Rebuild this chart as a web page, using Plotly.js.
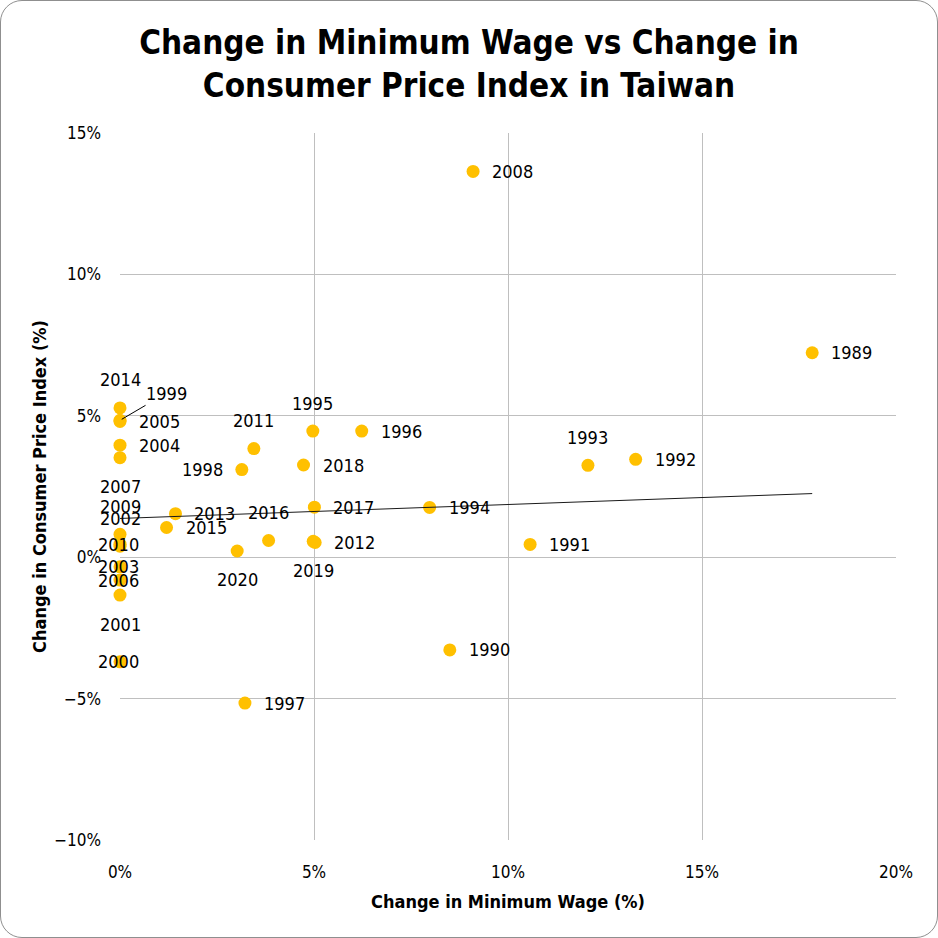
<!DOCTYPE html>
<html>
<head>
<meta charset="utf-8">
<script src="https://cdn.plot.ly/plotly-3.0.1.min.js"></script>
<style>
  html, body { margin: 0; padding: 0; background: #fff; }
  #wrap { position: relative; width: 938px; height: 938px; }
  #chart { position: absolute; left: 0; top: 0; width: 938px; height: 938px; }
  #frame { position: absolute; left: 0; top: 0; width: 938px; height: 938px; box-sizing: border-box;
           border: 1.5px solid #8f8f8f; border-radius: 22px; pointer-events: none; }
</style>
</head>
<body>
<div id="wrap"><div id="chart"></div><div id="frame"></div></div>
<script>
// ---- data (percent) ----
const years = [1989, 1990, 1991, 1992, 1993, 1994, 1995, 1996, 1997, 1998,
               1999, 2000, 2001, 2002, 2003, 2004, 2005, 2006, 2007, 2008,
               2009, 2010, 2011, 2012, 2013, 2014, 2015, 2016, 2017, 2018,
               2019, 2020];
const wageChange = [17.84, 8.50, 10.57, 13.29, 12.06, 7.98, 4.97, 6.23, 3.22, 3.14,
                    0, 0, 0, 0, 0, 0, 0, 0, 0, 9.10,
                    0, 0, 3.45, 5.03, 1.43, 0, 1.20, 3.83, 5.01, 4.73,
                    4.98, 3.02];
const cpiChange = [7.23, -3.28, 0.45, 3.46, 3.25, 1.76, 4.46, 4.46, -5.16, 3.10,
                   4.84, -3.70, -1.34, 0.39, -0.34, 3.96, 4.80, -0.81, 3.52, 13.64,
                   0.81, 0.46, 3.84, 0.52, 1.54, 5.28, 1.05, 0.59, 1.77, 3.26,
                   0.56, 0.22];
// trendline as drawn in the reference
const trendX = [0, 17.84];
const trendY = [1.37, 2.25];
const xTicks = [0, 5, 10, 15, 20];
const yTicks = [-10, -5, 0, 5, 10, 15];
const pct = v => (v < 0 ? '\u2212' + Math.abs(v) : String(v)) + '%';

// ---- label placement (style) ----
const placement = {
  1995: 'above', 2011: 'above', 2016: 'above', 1993: 'above', 2014: 'above',
  2009: 'above', 2002: 'above',
  2020: 'below', 2019: 'below', 2007: 'below', 2001: 'below',
  1998: 'left',
  2010: 'center', 2003: 'center', 2006: 'center', 2000: 'center',
  1999: 'leader'
};

const FONT = '"DejaVu Sans Condensed", "DejaVu Sans", sans-serif';
const labelFont = { family: FONT, size: 18, color: '#000' };

const annotations = years.map((yr, i) => {
  const pos = placement[yr] || 'right';
  const a = { x: wageChange[i], y: cpiChange[i], xref: 'x', yref: 'y', text: String(yr),
              showarrow: false, font: labelFont };
  if (pos === 'right') { a.xanchor = 'left'; a.xshift = 17; }
  else if (pos === 'left') { a.xanchor = 'right'; a.xshift = -17; }
  else if (pos === 'above') { a.yshift = 28; }
  else if (pos === 'below') { a.yshift = -29; }
  else if (pos === 'center') { a.xshift = -2; }
  else if (pos === 'leader') {
    a.showarrow = true; a.arrowhead = 0; a.arrowwidth = 1; a.arrowcolor = '#000';
    a.ax = 46; a.ay = -27; a.standoff = 2;
  }
  return a;
});

const traces = [
  { type: 'scatter', mode: 'markers', x: wageChange, y: cpiChange, text: years.map(String),
    marker: { color: '#FFC000', size: 13, line: { width: 0 } }, hoverinfo: 'x+y+text', cliponaxis: false },
  { type: 'scatter', mode: 'lines', x: trendX, y: trendY,
    line: { color: '#1a1a1a', width: 1 }, hoverinfo: 'skip' }
];

const layout = {
  width: 938, height: 938,
  margin: { l: 120, r: 42, t: 133, b: 98 },
  paper_bgcolor: '#fff', plot_bgcolor: '#fff',
  showlegend: false,
  title: {
    text: 'Change in Minimum Wage vs Change in<br>Consumer Price Index in Taiwan',
    font: { family: FONT, size: 33, color: '#000', weight: 'bold' },
    x: 0.5, xanchor: 'center', xref: 'container', y: 0.942, yanchor: 'middle', yref: 'container'
  },
  xaxis: {
    range: [0, 20], tickvals: xTicks, ticktext: xTicks.map(pct),
    showgrid: true, gridcolor: '#BFBFBF', gridwidth: 1,
    zeroline: false, showline: false, ticks: '',
    ticklabelstandoff: 20,
    tickfont: { family: FONT, size: 17, color: '#000' },
    title: { text: 'Change in Minimum Wage (%)', standoff: 14,
             font: { family: FONT, size: 18, color: '#000', weight: 'bold' } }
  },
  yaxis: {
    range: [-10, 15], tickvals: yTicks, ticktext: yTicks.map(pct),
    showgrid: true, gridcolor: '#BFBFBF', gridwidth: 1,
    zeroline: true, zerolinecolor: '#BFBFBF', zerolinewidth: 1,
    showline: false, ticks: '',
    ticklabelstandoff: 18,
    tickfont: { family: FONT, size: 17, color: '#000' },
    title: { text: 'Change in Consumer Price Index (%)', standoff: 2,
             font: { family: FONT, size: 18, color: '#000', weight: 'bold' } }
  },
  annotations: annotations
};

Plotly.newPlot('chart', traces, layout, { displayModeBar: false, staticPlot: true });
</script>
</body>
</html>
